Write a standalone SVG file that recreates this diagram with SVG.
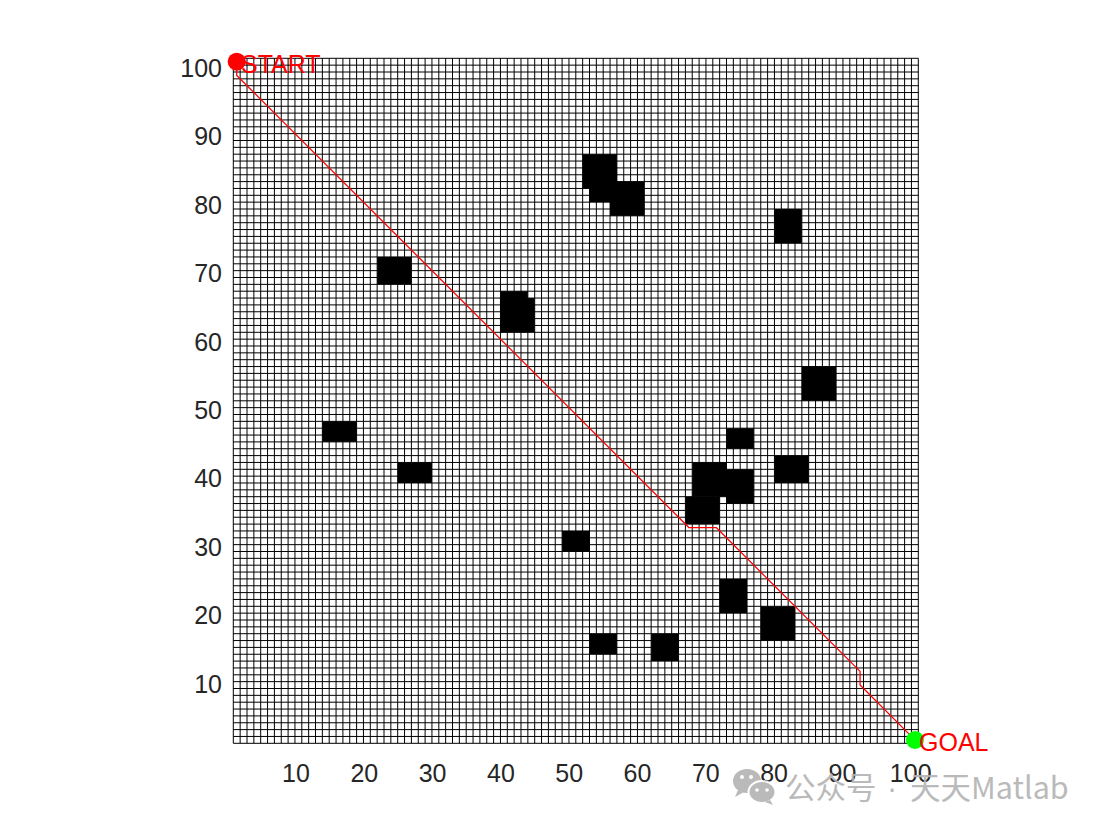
<svg xmlns="http://www.w3.org/2000/svg" width="1108" height="831" viewBox="0 0 1108 831">
<style>
.tick{font-family:"Liberation Sans",Arial,sans-serif;font-size:25px;fill:#262626}
.lbl{font-family:"Liberation Sans",Arial,sans-serif;font-size:25px;fill:#ff0000}
.grid{fill:none;stroke:#000;stroke-width:1}
.obs{fill:#000}
.route{fill:none;stroke:#ff0000;stroke-width:1.3;stroke-linejoin:round}
.wm{font-family:"Noto Sans CJK SC","Noto Sans",sans-serif;font-size:30.5px;fill:#b3b3b3}
</style>
<rect width="1108" height="831" fill="#fff"/>
<g id="map" transform="translate(233.3,58.3) scale(6.85)">
<path class="grid" vector-effect="non-scaling-stroke" d="M0 0V100M1 0V100M2 0V100M3 0V100M4 0V100M5 0V100M6 0V100M7 0V100M8 0V100M9 0V100M10 0V100M11 0V100M12 0V100M13 0V100M14 0V100M15 0V100M16 0V100M17 0V100M18 0V100M19 0V100M20 0V100M21 0V100M22 0V100M23 0V100M24 0V100M25 0V100M26 0V100M27 0V100M28 0V100M29 0V100M30 0V100M31 0V100M32 0V100M33 0V100M34 0V100M35 0V100M36 0V100M37 0V100M38 0V100M39 0V100M40 0V100M41 0V100M42 0V100M43 0V100M44 0V100M45 0V100M46 0V100M47 0V100M48 0V100M49 0V100M50 0V100M51 0V100M52 0V100M53 0V100M54 0V100M55 0V100M56 0V100M57 0V100M58 0V100M59 0V100M60 0V100M61 0V100M62 0V100M63 0V100M64 0V100M65 0V100M66 0V100M67 0V100M68 0V100M69 0V100M70 0V100M71 0V100M72 0V100M73 0V100M74 0V100M75 0V100M76 0V100M77 0V100M78 0V100M79 0V100M80 0V100M81 0V100M82 0V100M83 0V100M84 0V100M85 0V100M86 0V100M87 0V100M88 0V100M89 0V100M90 0V100M91 0V100M92 0V100M93 0V100M94 0V100M95 0V100M96 0V100M97 0V100M98 0V100M99 0V100M100 0V100
M0 0H100M0 1H100M0 2H100M0 3H100M0 4H100M0 5H100M0 6H100M0 7H100M0 8H100M0 9H100M0 10H100M0 11H100M0 12H100M0 13H100M0 14H100M0 15H100M0 16H100M0 17H100M0 18H100M0 19H100M0 20H100M0 21H100M0 22H100M0 23H100M0 24H100M0 25H100M0 26H100M0 27H100M0 28H100M0 29H100M0 30H100M0 31H100M0 32H100M0 33H100M0 34H100M0 35H100M0 36H100M0 37H100M0 38H100M0 39H100M0 40H100M0 41H100M0 42H100M0 43H100M0 44H100M0 45H100M0 46H100M0 47H100M0 48H100M0 49H100M0 50H100M0 51H100M0 52H100M0 53H100M0 54H100M0 55H100M0 56H100M0 57H100M0 58H100M0 59H100M0 60H100M0 61H100M0 62H100M0 63H100M0 64H100M0 65H100M0 66H100M0 67H100M0 68H100M0 69H100M0 70H100M0 71H100M0 72H100M0 73H100M0 74H100M0 75H100M0 76H100M0 77H100M0 78H100M0 79H100M0 80H100M0 81H100M0 82H100M0 83H100M0 84H100M0 85H100M0 86H100M0 87H100M0 88H100M0 89H100M0 90H100M0 91H100M0 92H100M0 93H100M0 94H100M0 95H100M0 96H100M0 97H100M0 98H100M0 99H100M0 100H100"/>
<g id="obstacles">
<rect class="obs" x="51" y="14" width="5" height="5"/>
<rect class="obs" x="52" y="16" width="4" height="5"/>
<rect class="obs" x="55" y="18" width="5" height="5"/>
<rect class="obs" x="79" y="22" width="4" height="5"/>
<rect class="obs" x="21" y="29" width="5" height="4"/>
<rect class="obs" x="39" y="34" width="4" height="6"/>
<rect class="obs" x="39" y="35" width="5" height="5"/>
<rect class="obs" x="83" y="45" width="5" height="5"/>
<rect class="obs" x="13" y="53" width="5" height="3"/>
<rect class="obs" x="72" y="54" width="4" height="3"/>
<rect class="obs" x="79" y="58" width="5" height="4"/>
<rect class="obs" x="24" y="59" width="5" height="3"/>
<rect class="obs" x="67" y="59" width="5" height="5"/>
<rect class="obs" x="72" y="60" width="4" height="5"/>
<rect class="obs" x="66" y="64" width="5" height="4"/>
<rect class="obs" x="48" y="69" width="4" height="3"/>
<rect class="obs" x="71" y="76" width="4" height="5"/>
<rect class="obs" x="77" y="80" width="5" height="5"/>
<rect class="obs" x="52" y="84" width="4" height="3"/>
<rect class="obs" x="61" y="84" width="4" height="4"/>
</g>
<g id="connectors">
<path class="route" vector-effect="non-scaling-stroke" d="M0.5 0.5L0.5 2.5L66.5 68.5L70.5 68.5L91.5 89.5L91.5 91.5L99.5 99.5"/>
</g>
</g>
<g id="start">
<circle cx="236.7" cy="61.7" r="9" fill="#ff0000"/>
<text class="lbl" x="241" y="73">START</text>
</g>
<g id="goal">
<circle cx="915" cy="740" r="9" fill="#00ff00"/>
<text class="lbl" x="919" y="751">GOAL</text>
</g>
<g id="yticks" text-anchor="end">
<text class="tick" x="222" y="76.7">100</text>
<text class="tick" x="222" y="145.2">90</text>
<text class="tick" x="222" y="213.6">80</text>
<text class="tick" x="222" y="282.1">70</text>
<text class="tick" x="222" y="350.5">60</text>
<text class="tick" x="222" y="419">50</text>
<text class="tick" x="222" y="487.4">40</text>
<text class="tick" x="222" y="555.9">30</text>
<text class="tick" x="222" y="624.3">20</text>
<text class="tick" x="222" y="692.8">10</text>
</g>
<g id="xticks" text-anchor="middle">
<text class="tick" x="296" y="781.5">10</text>
<text class="tick" x="364.3" y="781.5">20</text>
<text class="tick" x="432.6" y="781.5">30</text>
<text class="tick" x="500.9" y="781.5">40</text>
<text class="tick" x="569.2" y="781.5">50</text>
<text class="tick" x="637.5" y="781.5">60</text>
<text class="tick" x="705.8" y="781.5">70</text>
<text class="tick" x="774.1" y="781.5">80</text>
<text class="tick" x="842.4" y="781.5">90</text>
<text class="tick" x="910.7" y="781.5">100</text>
</g>
<g id="watermark" opacity="0.9">
<ellipse cx="747" cy="781" rx="14" ry="12" fill="#b3b3b3"/>
<path d="M738 790 L735 797 L744 792 Z" fill="#b3b3b3"/>
<ellipse cx="762" cy="792" rx="13.5" ry="11" fill="#b3b3b3" stroke="#fff" stroke-width="2"/>
<path d="M770 800 L773 805 L765 802 Z" fill="#b3b3b3"/>
<circle cx="742" cy="777" r="2" fill="#fff"/>
<circle cx="751" cy="777" r="2" fill="#fff"/>
<circle cx="757" cy="790" r="1.8" fill="#fff"/>
<circle cx="767" cy="790" r="1.8" fill="#fff"/>
<text class="wm" x="785" y="799">公众号<tspan x="887" font-family="'Liberation Sans',sans-serif">·</tspan><tspan x="910">天天Matlab</tspan></text>
</g>
</svg>
